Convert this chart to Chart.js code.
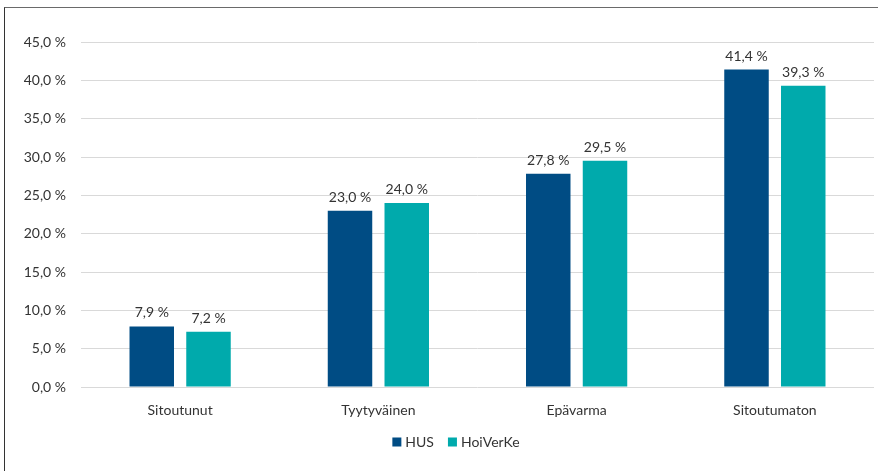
<!DOCTYPE html>
<html>
<head>
<meta charset="utf-8">
<script src="https://cdn.jsdelivr.net/npm/chart.js@4/dist/chart.umd.min.js"></script>
<style>
  html, body { margin: 0; padding: 0; background: #fff; overflow: hidden; }
  #wrap { position: relative; width: 878px; height: 471px; }
  #frame { position: absolute; left: 4px; top: 7px; width: 900px; height: 500px;
           border-left: 1.5px solid #333; border-top: 1.5px solid #6a6a6a; }
  canvas { position: absolute; left: 0; top: 0; }
</style>
</head>
<body>
<div id="wrap">
  <div id="frame"></div>
  <canvas id="c" width="878" height="471"></canvas>
</div>
<script>
// Sitoutuneisuusryhmien osuudet
const categories = ['Sitoutunut', 'Tyytyväinen', 'Epävarma', 'Sitoutumaton'];
const seriesNames = ['HUS', 'HoiVerKe'];
const husValues = [7.9, 23.0, 27.8, 41.4];
const hoiverkeValues = [7.2, 24.0, 29.5, 39.3];
const seriesColors = ['#004C84', '#00AAAC'];

const FONT = 'Lato, "Open Sans", sans-serif';
const FS = 14;
const TEXT = '#333333';
const fmt = v => v.toFixed(1).replace('.', ',') + ' %';

const valueLabels = {
  id: 'valueLabels',
  afterDatasetsDraw(chart) {
    const ctx = chart.ctx;
    ctx.save();
    ctx.font = FS + 'px ' + FONT;
    ctx.fillStyle = TEXT;
    ctx.textAlign = 'center';
    ctx.textBaseline = 'alphabetic';
    chart.data.datasets.forEach((ds, i) => {
      chart.getDatasetMeta(i).data.forEach((bar, j) => {
        ctx.fillText(fmt(ds.data[j]), bar.x, bar.y - 9);
      });
    });
    ctx.restore();
  }
};

const bottomLegend = {
  id: 'bottomLegend',
  afterDraw(chart) {
    const ctx = chart.ctx;
    ctx.save();
    ctx.font = FS + 'px ' + FONT;
    ctx.textBaseline = 'middle';
    ctx.textAlign = 'left';
    const cy = 442, box = 9, gap = 4, itemGap = 14;
    const widths = seriesNames.map(n => box + gap + ctx.measureText(n).width);
    const total = widths.reduce((a, b) => a + b, 0) + itemGap * (seriesNames.length - 1);
    let x = 456 - total / 2;
    seriesNames.forEach((n, i) => {
      ctx.fillStyle = seriesColors[i];
      ctx.fillRect(x, cy - box / 2, box, box);
      ctx.fillStyle = TEXT;
      ctx.fillText(n, x + box + gap, cy + 0.5);
      x += widths[i] + itemGap;
    });
    ctx.restore();
  }
};

new Chart(document.getElementById('c'), {
  type: 'bar',
  data: {
    labels: categories,
    datasets: [
      { label: seriesNames[0], data: husValues, backgroundColor: seriesColors[0] },
      { label: seriesNames[1], data: hoiverkeValues, backgroundColor: seriesColors[1] }
    ]
  },
  options: {
    responsive: false,
    animation: false,
    devicePixelRatio: 1,
    layout: { padding: { top: 42, right: 4, bottom: 0, left: 0 } },
    datasets: { bar: { categoryPercentage: 0.5725, barPercentage: 0.784 } },
    plugins: { legend: { display: false }, tooltip: { enabled: false } },
    scales: {
      x: {
        grid: { display: false },
        border: { display: false },
        ticks: { color: TEXT, font: { family: FONT, size: FS }, padding: 7 },
        afterFit(s) { s.height = 84; }
      },
      y: {
        min: 0, max: 45,
        grid: { color: '#d9d9d9', lineWidth: 1, drawTicks: false },
        border: { display: false },
        ticks: { stepSize: 5, color: TEXT, font: { family: FONT, size: FS }, padding: 15,
                 callback: v => fmt(v) },
        afterFit(s) { s.width = 81; }
      }
    }
  },
  plugins: [valueLabels, bottomLegend]
});
</script>
</body>
</html>
